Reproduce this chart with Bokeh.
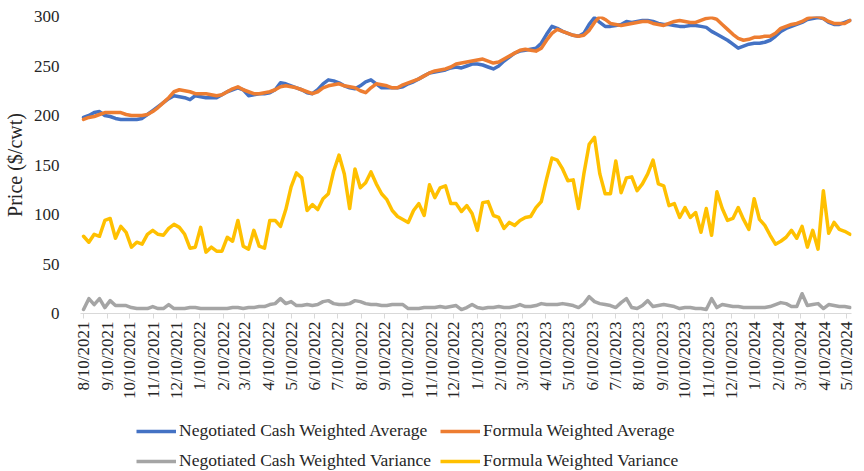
import pandas as pd
from bokeh.plotting import figure
from bokeh.layouts import column
from bokeh.models import FixedTicker, Legend, LegendItem, Range1d
from bokeh.embed import file_html
from bokeh.resources import INLINE

# ---- data (weekly, starting 8/10/2021) ----
start_date = "2021-08-10"

neg_avg = [198, 200, 203, 204, 200, 199, 197, 196, 196, 196, 196, 197, 201, 205, 209, 213, 217, 220, 219, 218,
           216, 220, 219, 218, 218, 218, 221, 224, 226, 228, 226, 220, 221, 222, 222, 223, 226, 233, 232, 230,
           228, 226, 223, 222, 226, 232, 236, 235, 233, 230, 228, 227, 230, 234, 236, 232, 228, 228, 228, 228,
           229, 232, 234, 237, 240, 243, 244, 245, 246, 248, 249, 248, 250, 252, 252, 251, 249, 247, 250, 255,
           259, 263, 265, 266, 267, 268, 273, 282, 290, 288, 285, 283, 281, 280, 283, 292, 299, 294, 290, 290,
           291, 292, 295, 294, 295, 296, 296, 295, 293, 292, 292, 291, 290, 290, 291, 291, 290, 289, 285, 282,
           279, 276, 272, 268, 270, 272, 273, 273, 274, 276, 280, 285, 288, 290, 292, 294, 297, 298, 299, 298,
           294, 292, 292, 294, 296]

form_avg = [196, 198, 199, 201, 203, 203, 203, 203, 201, 200, 200, 200, 201, 204, 208, 213, 218, 224, 226, 225,
            224, 222, 222, 222, 221, 220, 221, 224, 227, 229, 226, 224, 222, 222, 223, 224, 226, 229, 230, 229,
            228, 226, 224, 222, 224, 228, 230, 231, 232, 230, 229, 228, 225, 223, 228, 232, 231, 230, 228, 228,
            231, 233, 235, 237, 240, 243, 245, 246, 247, 249, 252, 253, 254, 255, 256, 257, 255, 253, 254, 257,
            260, 263, 266, 267, 266, 265, 268, 276, 283, 287, 285, 283, 281, 280, 281, 286, 294, 300, 297, 293,
            292, 291, 292, 293, 294, 295, 295, 293, 292, 291, 293, 295, 296, 295, 294, 294, 296, 298, 299, 297,
            292, 287, 282, 278, 276, 277, 279, 279, 280, 280, 283, 288, 290, 292, 293, 295, 298, 300, 300, 298,
            295, 293, 293, 293, 296]

neg_var = [4, 15, 9, 15, 6, 13, 8, 8, 8, 6, 5, 5, 5, 7, 5, 5, 9, 5, 5, 5,
           6, 6, 5, 5, 5, 5, 5, 5, 6, 6, 5, 6, 6, 7, 7, 9, 10, 15, 10, 12,
           8, 8, 9, 8, 9, 12, 13, 10, 9, 9, 10, 13, 12, 10, 9, 9, 8, 8, 9, 9,
           9, 5, 5, 5, 6, 6, 6, 7, 6, 7, 8, 4, 6, 9, 6, 5, 6, 6, 7, 6,
           6, 7, 9, 7, 7, 8, 10, 9, 9, 9, 10, 9, 8, 6, 10, 17, 12, 10, 9, 8,
           6, 11, 15, 6, 5, 8, 13, 7, 8, 9, 8, 7, 5, 6, 6, 5, 5, 4, 15, 6,
           9, 8, 7, 7, 6, 6, 6, 6, 6, 7, 9, 11, 10, 7, 7, 20, 8, 9, 10, 5,
           9, 8, 7, 7, 6]

form_var = [78, 72, 80, 78, 94, 96, 76, 88, 82, 67, 72, 70, 80, 84, 80, 79, 86, 90, 87, 80,
            66, 67, 87, 62, 67, 63, 63, 77, 73, 94, 68, 65, 84, 68, 66, 94, 94, 88, 105, 128,
            142, 137, 104, 110, 105, 116, 121, 144, 160, 141, 106, 146, 127, 132, 143, 131, 121, 115, 104, 98,
            95, 92, 104, 111, 99, 130, 117, 127, 129, 111, 111, 103, 109, 101, 84, 112, 113, 99, 97, 86,
            92, 89, 94, 97, 98, 107, 113, 136, 157, 155, 146, 134, 135, 106, 141, 171, 178, 141, 121, 121,
            154, 122, 137, 138, 124, 131, 141, 155, 131, 129, 109, 111, 97, 107, 97, 102, 82, 106, 79, 123,
            106, 94, 96, 107, 95, 85, 116, 95, 89, 79, 70, 73, 77, 84, 76, 88, 67, 84, 65, 124,
            81, 92, 85, 83, 80]

tick_labels = ["8/10/2021", "9/10/2021", "10/10/2021", "11/10/2021", "12/10/2021",
               "1/10/2022", "2/10/2022", "3/10/2022", "4/10/2022", "5/10/2022", "6/10/2022",
               "7/10/2022", "8/10/2022", "9/10/2022", "10/10/2022", "11/10/2022", "12/10/2022",
               "1/10/2023", "2/10/2023", "3/10/2023", "4/10/2023", "5/10/2023", "6/10/2023",
               "7/10/2023", "8/10/2023", "9/10/2023", "10/10/2023", "11/10/2023", "12/10/2023",
               "1/10/2024", "2/10/2024", "3/10/2024", "4/10/2024", "5/10/2024"]

y_ticks = [0, 50, 100, 150, 200, 250, 300]

series_names = ["Negotiated Cash Weighted Average", "Formula Weighted Average",
                "Negotiated Cash Weighted Variance", "Formula Weighted Variance"]
series_colors = ["#4472C4", "#ED7D31", "#A5A5A5", "#FFC000"]
series_values = [neg_avg, form_avg, neg_var, form_var]

# ---- build ----
dates = pd.date_range(start_date, periods=len(neg_avg), freq="7D")
tick_ts = pd.to_datetime(tick_labels, format="%m/%d/%Y")
tick_ms = [int(t.value // 10**6) for t in tick_ts]

FONT = "Liberation Serif"
TXT = "#262626"
LW = 3.5

x_start = pd.Timestamp(start_date) - pd.Timedelta(days=4)
x_end = pd.Timestamp(start_date) + pd.Timedelta(days=1010)

p = figure(width=856, height=418, x_axis_type="datetime",
           x_range=Range1d(x_start, x_end), y_range=Range1d(0, 300),
           output_backend="svg", toolbar_location=None,
           min_border_left=64, min_border_right=5, min_border_top=16, min_border_bottom=105)
p.outline_line_color = None
p.xgrid.visible = False
p.ygrid.visible = False

for vals, color in zip(series_values, series_colors):
    p.line(dates, vals, line_color=color, line_width=LW, line_join="round", line_cap="round")

# y axis
p.yaxis.ticker = FixedTicker(ticks=y_ticks)
p.yaxis.axis_line_color = None
p.yaxis.major_tick_line_color = None
p.yaxis.minor_tick_line_color = None
p.yaxis.major_label_standoff = 15
p.yaxis.major_label_text_font = FONT
p.yaxis.major_label_text_font_size = "17px"
p.yaxis.major_label_text_color = TXT
p.yaxis.axis_label = "Price ($/cwt)"
p.yaxis.axis_label_text_font = FONT
p.yaxis.axis_label_text_font_size = "20px"
p.yaxis.axis_label_text_font_style = "normal"
p.yaxis.axis_label_text_color = TXT
p.yaxis.axis_label_standoff = 5

# x axis
p.xaxis.ticker = FixedTicker(ticks=tick_ms)
p.xaxis.major_label_overrides = {ms: lab for ms, lab in zip(tick_ms, tick_labels)}
p.xaxis.major_label_orientation = 1.5707963267948966
p.xaxis.axis_line_color = "#D9D9D9"
p.xaxis.major_tick_line_color = "#D9D9D9"
p.xaxis.minor_tick_line_color = None
p.xaxis.major_tick_in = 0
p.xaxis.major_tick_out = 5
p.xaxis.major_label_standoff = 3
p.xaxis.major_label_text_font = FONT
p.xaxis.major_label_text_font_size = "17px"
p.xaxis.major_label_text_color = TXT

# ---- legend strip under the chart (same series, ranges keep the lines out of view) ----
leg = figure(width=856, height=53, x_range=Range1d(0, 1), y_range=Range1d(0, 1),
             x_axis_location=None, y_axis_location=None,
             output_backend="svg", toolbar_location=None, min_border=0)
leg.xgrid.visible = False
leg.ygrid.visible = False
leg.outline_line_color = None

leg_renderers = [leg.line(dates, vals, line_color=c, line_width=LW)
                 for vals, c in zip(series_values, series_colors)]
order = [0, 2, 1, 3]  # column-major: col1 = negotiated, col2 = formula
items = [LegendItem(label=series_names[i], renderers=[leg_renderers[i]]) for i in order]
legend = Legend(items=items, ncols=2, orientation="vertical",
                location=(56, 0), padding=0, margin=0, spacing=9,
                glyph_width=40, glyph_height=20, label_height=20, label_standoff=3,
                label_text_font=FONT, label_text_font_size="17.5px", label_text_color=TXT,
                border_line_color=None, background_fill_alpha=0)
leg.add_layout(legend, "center")

layout = column(p, leg, spacing=0)
open("out.html", "w").write(file_html(layout, INLINE))
